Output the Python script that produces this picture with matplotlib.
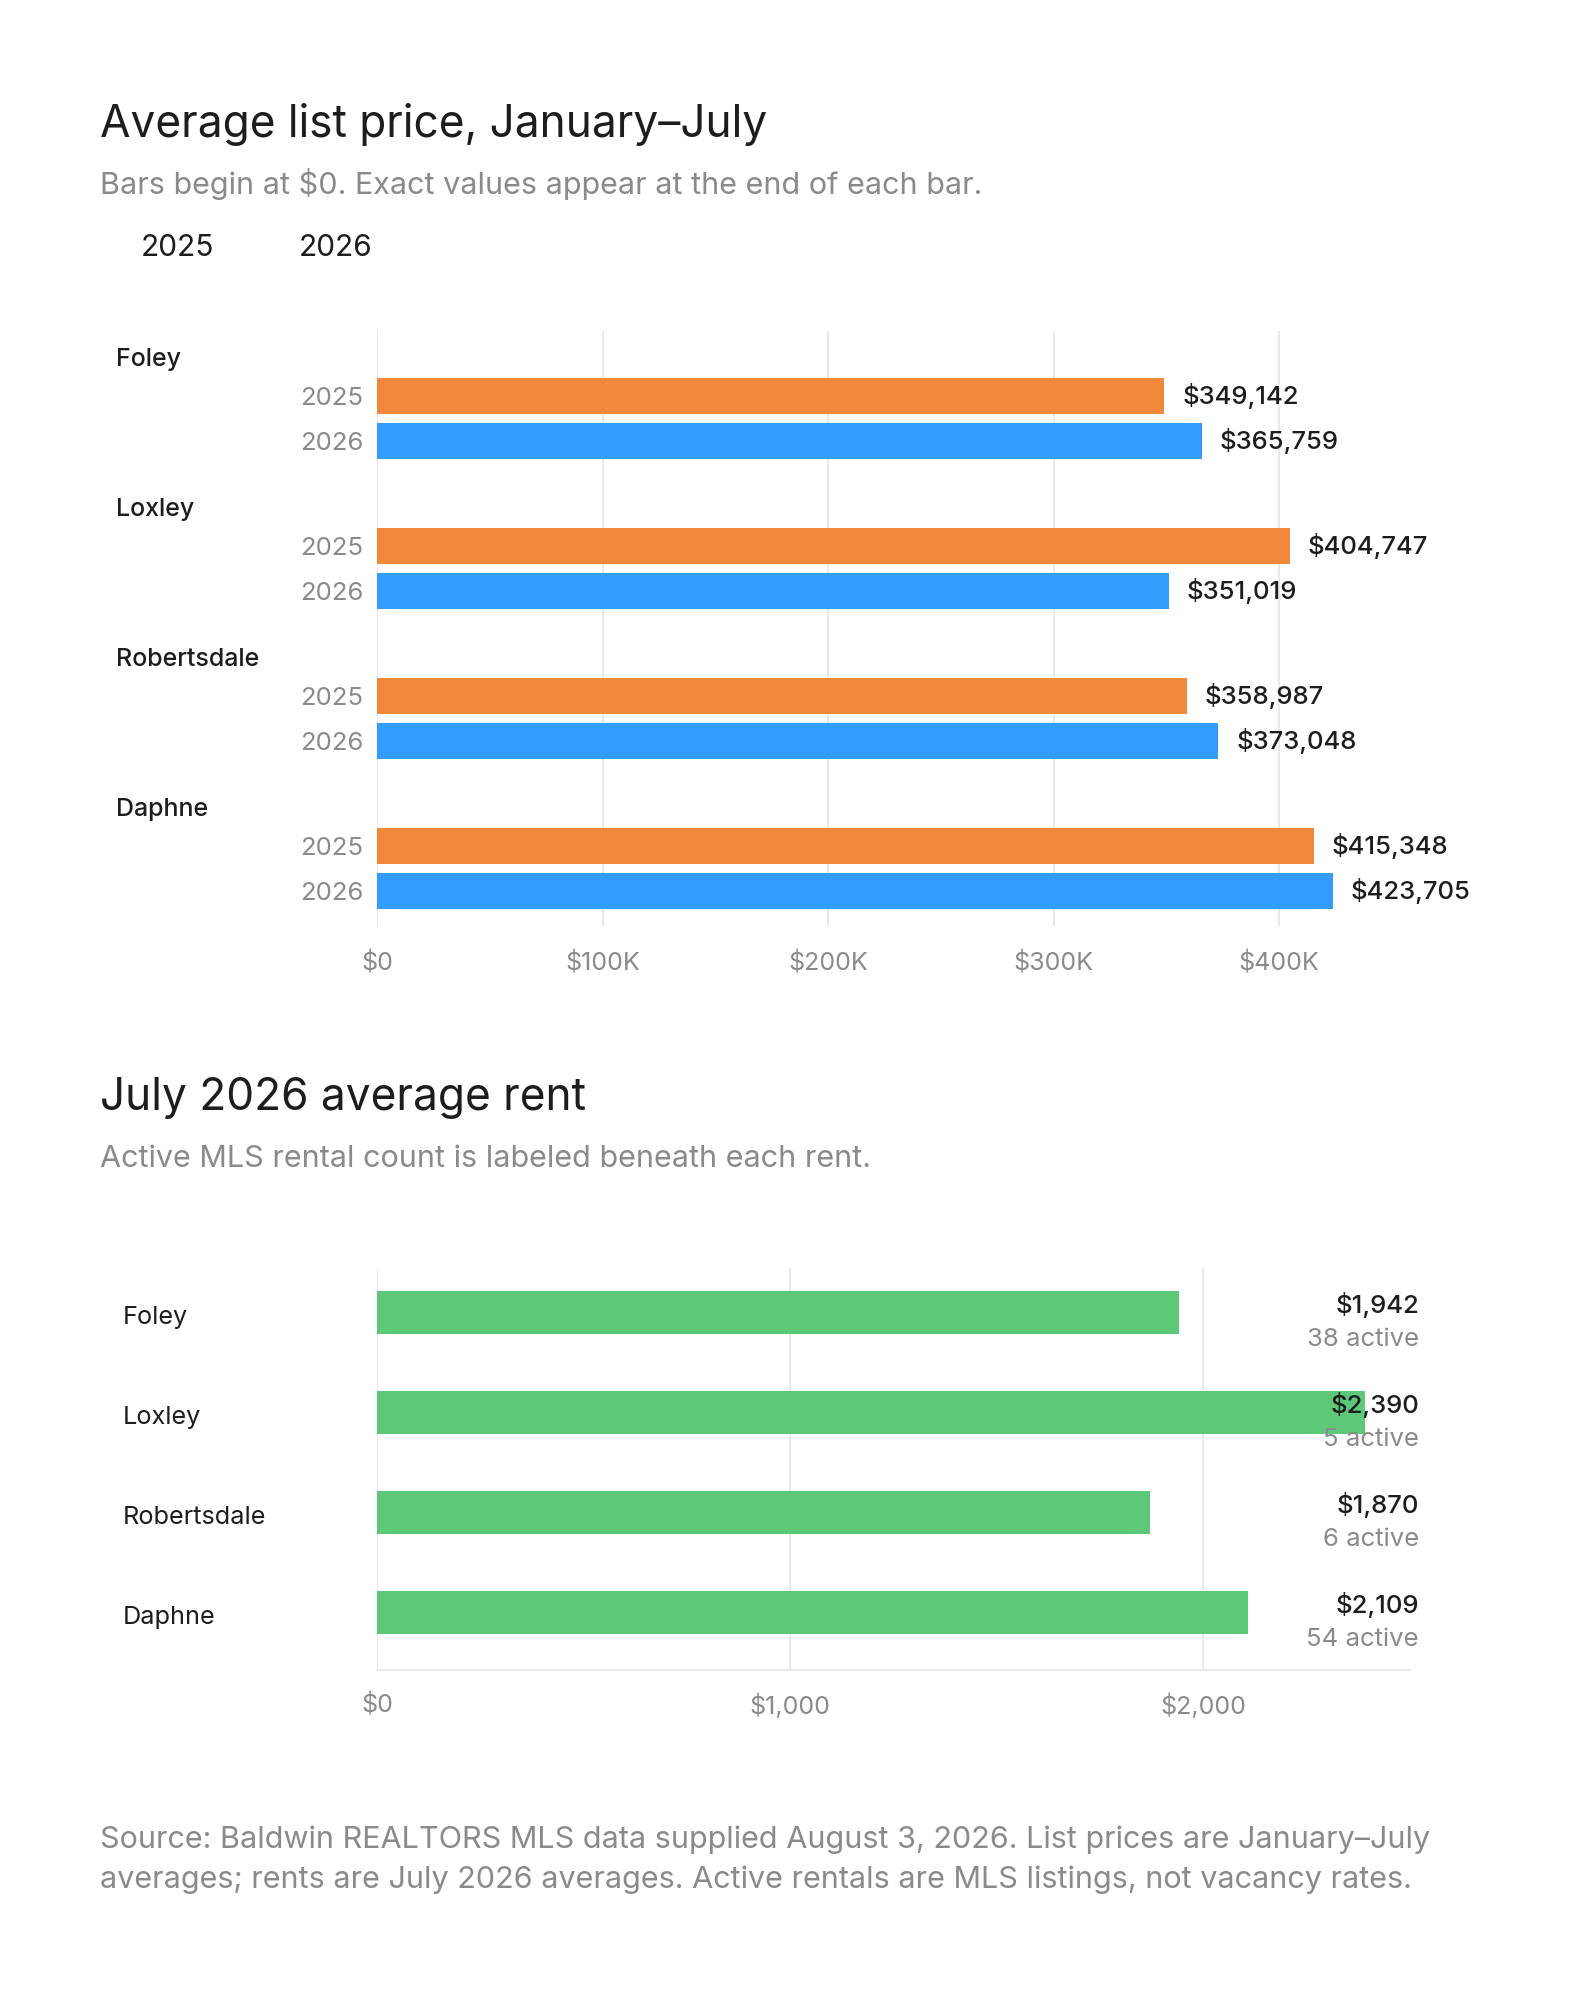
import matplotlib.pyplot as plt
import numpy as np

cities = ["Foley", "Loxley", "Robertsdale", "Daphne"]
years = ["2025", "2026"]
price_2025 = [349142, 404747, 358987, 415348]
price_2026 = [365759, 351019, 373048, 423705]
price_ticks = [0, 100000, 200000, 300000, 400000]
price_tick_labels = ["$0", "$100K", "$200K", "$300K", "$400K"]

rent = [1942, 2390, 1870, 2109]
active = [38, 5, 6, 54]
rent_ticks = [0, 1000, 2000]
rent_tick_labels = ["$0", "$1,000", "$2,000"]

ORANGE = "#f2883b"
BLUE = "#339cff"
GREEN = "#5cc878"
DARK = "#1d1d1f"
GRAY = "#8a8a8e"
GRID = "#e9e9eb"

plt.rcParams["font.family"] = ["Inter", "DejaVu Sans"]

W, H = 1591, 2000
fig = plt.figure(figsize=(W / 100, H / 100), dpi=100)


def fx(px):
    return px / W


def fy(py):
    return 1 - py / H


# ---------- headings ----------
fig.text(fx(100), fy(137), "Average list price, January\u2013July", fontsize=31.8,
         color=DARK, va="baseline")
fig.text(fx(100), fy(194), "Bars begin at $0. Exact values appear at the end of each bar.",
         fontsize=22, color=GRAY, va="baseline")
fig.text(fx(141), fy(256), "2025", fontsize=21.5, color=DARK, va="baseline")
fig.text(fx(299), fy(256), "2026", fontsize=21.5, color=DARK, va="baseline")

# ---------- list price chart ----------
ax1 = fig.add_axes([fx(377), fy(926), fx(1410) - fx(377), (926 - 331) / H])
idx = np.arange(len(cities))
off = 0.15
bh = 0.24
ax1.barh(idx - off, price_2025, height=bh, color=ORANGE, zorder=2)
ax1.barh(idx + off, price_2026, height=bh, color=BLUE, zorder=2)
ax1.set_xlim(0, 458000)
ax1.set_ylim(3.383, -0.583)
ax1.set_xticks(price_ticks)
ax1.set_xticklabels(price_tick_labels)
ax1.set_yticks([])
ax1.grid(axis="x", color=GRID, linewidth=1.5, zorder=0)
ax1.tick_params(axis="x", length=0, pad=18, labelsize=18, labelcolor=GRAY)
for s in ax1.spines.values():
    s.set_visible(False)

for i, city in enumerate(cities):
    ax1.annotate(city, xy=(0, i - 0.35), xycoords=("axes fraction", "data"),
                 xytext=(-(377 - 116) * 0.72, 0), textcoords="offset points",
                 ha="left", va="baseline", fontsize=18, fontweight="medium",
                 color=DARK, annotation_clip=False)
    for yr, y, v in [(years[0], i - off, price_2025[i]), (years[1], i + off, price_2026[i])]:
        ax1.annotate(yr, xy=(0, y), xycoords=("axes fraction", "data"),
                     xytext=(-14 * 0.72, 0), textcoords="offset points",
                     ha="right", va="center_baseline", fontsize=18.5, color=GRAY,
                     annotation_clip=False)
        ax1.annotate(f"${v:,}", xy=(v, y), xytext=(18 * 0.72, 0),
                     textcoords="offset points", ha="left", va="center",
                     fontsize=18.5, fontweight="medium", color=DARK,
                     annotation_clip=False)

# ---------- rent chart ----------
fig.text(fx(100), fy(1110), "July 2026 average rent", fontsize=31.8, color=DARK,
         va="baseline")
fig.text(fx(100), fy(1167), "Active MLS rental count is labeled beneath each rent.",
         fontsize=22, color=GRAY, va="baseline")

ax2 = fig.add_axes([fx(377), fy(1670), fx(1410) - fx(377), (1670 - 1268) / H])
ax2.barh(idx, rent, height=0.43, color=GREEN, zorder=2)
ax2.set_xlim(0, 2500)
ax2.set_ylim(3.58, -0.44)
ax2.set_xticks(rent_ticks)
ax2.set_xticklabels(rent_tick_labels)
ax2.set_yticks([])
ax2.grid(axis="x", color=GRID, linewidth=1.5, zorder=0)
ax2.tick_params(axis="x", length=0, pad=17, labelsize=18, labelcolor=GRAY)
for s in ["top", "right", "left"]:
    ax2.spines[s].set_visible(False)
ax2.spines["bottom"].set_color(GRID)
ax2.spines["bottom"].set_linewidth(1.5)

for i, city in enumerate(cities):
    ax2.annotate(city, xy=(0, i), xycoords=("axes fraction", "data"),
                 xytext=(-(377 - 123) * 0.72, -3 * 0.72), textcoords="offset points",
                 ha="left", va="center_baseline", fontsize=18.2, color=DARK,
                 annotation_clip=False)
    ax2.annotate(f"${rent[i]:,}", xy=(1, i), xycoords=("axes fraction", "data"),
                 xytext=(9 * 0.72, 1 * -0.72), textcoords="offset points",
                 ha="right", va="baseline", fontsize=18.5, fontweight="medium",
                 color=DARK, zorder=5, annotation_clip=False)
    ax2.annotate(f"{active[i]} active", xy=(1, i), xycoords=("axes fraction", "data"),
                 xytext=(9 * 0.72, -34 * 0.72), textcoords="offset points",
                 ha="right", va="baseline", fontsize=18.5, color=GRAY,
                 zorder=5, annotation_clip=False)

# ---------- source ----------
fig.text(fx(100), fy(1848),
         "Source: Baldwin REALTORS MLS data supplied August 3, 2026. List prices are January\u2013July",
         fontsize=22, color=GRAY, va="baseline")
fig.text(fx(100), fy(1888),
         "averages; rents are July 2026 averages. Active rentals are MLS listings, not vacancy rates.",
         fontsize=22, color=GRAY, va="baseline")

fig.savefig("out.png", dpi=100, facecolor="white")
